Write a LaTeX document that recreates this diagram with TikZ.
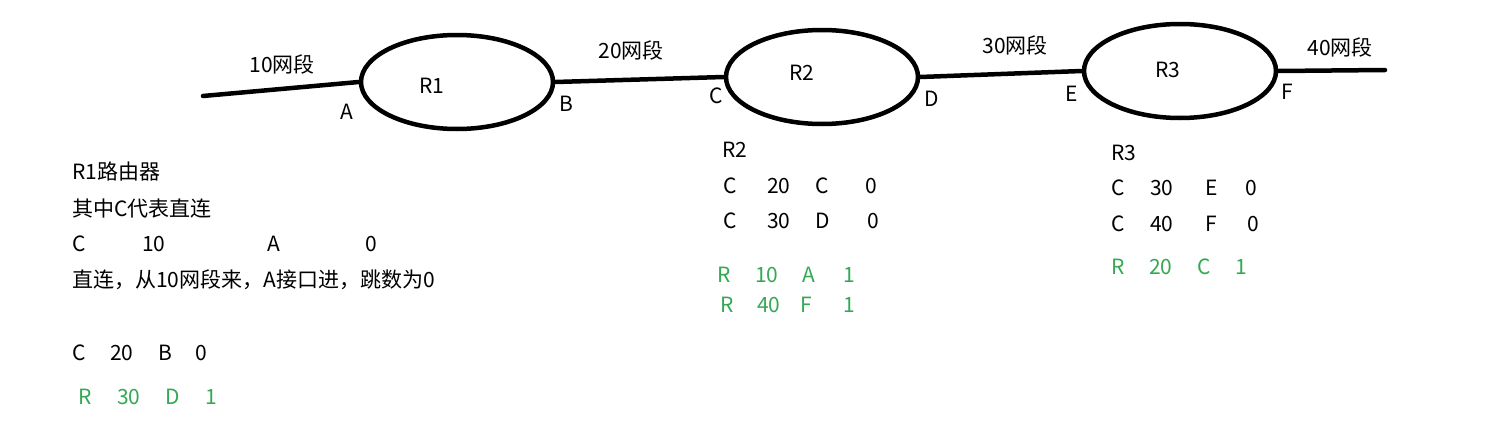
\documentclass[tikz,border=0pt]{standalone}
\usepackage{fontspec}
\setmainfont{Noto Sans CJK SC}
\usetikzlibrary{shapes.geometric}
\definecolor{routegreen}{RGB}{52,168,83}
\tikzset{
  router/.style={draw,ellipse,line width=4.5pt,minimum width=192pt,minimum height=94pt,inner sep=0pt},
  link/.style={line width=4.5pt,line cap=round},
  lbl/.style={inner sep=0pt,font=\fontsize{21}{24}\selectfont},
  cell/.style={lbl,anchor=west},
  learned/.style={cell,text=routegreen}
}
\begin{document}
\begin{tikzpicture}[x=1pt,y=-1pt]
	\useasboundingbox (0,0) rectangle (1489,439);
	% routers
	\node[router] (r1) at (457,82) {};
	\node[router] (r2) at (822,77) {};
	\node[router] (r3) at (1180,71) {};
	\node[lbl] (r1name) at (432,86) {R1};
	\node[lbl] (r2name) at (802,73) {R2};
	\node[lbl] (r3name) at (1168,70) {R3};
	% segments
	\coordinate (seg10end) at (203,96);
	\coordinate (seg40end) at (1385,70);
	\draw[link] (seg10end) -- (r1.west);
	\draw[link] (r1.east) -- (r2.west);
	\draw[link] (r2.east) -- (r3.west);
	\draw[link] (r3.east) -- (seg40end);
	\node[lbl] (seg10) at (282,64) {10网段};
	\node[lbl] (seg20) at (631,50) {20网段};
	\node[lbl] (seg30) at (1015,45) {30网段};
	\node[lbl] (seg40) at (1340,47) {40网段};
	% interfaces
	\node[lbl] (ifA) at (347,112) {A};
	\node[lbl] (ifB) at (566,104) {B};
	\node[lbl] (ifC) at (716,96) {C};
	\node[lbl] (ifD) at (932,99) {D};
	\node[lbl] (ifE) at (1072,94) {E};
	\node[lbl] (ifF) at (1287,92) {F};
	% R1 table
	\node[cell] (t1title) at (72,172) {R1路由器};
	\node[cell] (t1note) at (72,209) {其中C代表直连};
	\node[cell] (t1a) at (72,244) {C};
	\node[cell] (t1b) at (142,244) {10};
	\node[cell] (t1c) at (267,244) {A};
	\node[cell] (t1d) at (365,244) {0};
	\node[cell] (t1text) at (72,280) {直连，从10网段来，A接口进，跳数为0};
	\node[cell] (t1e) at (72,353) {C};
	\node[cell] (t1f) at (110,353) {20};
	\node[cell] (t1g) at (158,353) {B};
	\node[cell] (t1h) at (195,353) {0};
	\node[learned] (t1i) at (78,397) {R};
	\node[learned] (t1j) at (117,397) {30};
	\node[learned] (t1k) at (165,397) {D};
	\node[learned] (t1l) at (205,397) {1};
	% R2 table
	\node[cell] (t2title) at (722,150) {R2};
	\node[cell] (t2a) at (723,186) {C};
	\node[cell] (t2b) at (767,186) {20};
	\node[cell] (t2c) at (815,186) {C};
	\node[cell] (t2d) at (865,186) {0};
	\node[cell] (t2e) at (723,221) {C};
	\node[cell] (t2f) at (767,221) {30};
	\node[cell] (t2g) at (815,221) {D};
	\node[cell] (t2h) at (867,221) {0};
	\node[learned] (t2i) at (717,275) {R};
	\node[learned] (t2j) at (755,275) {10};
	\node[learned] (t2k) at (802,275) {A};
	\node[learned] (t2l) at (843,275) {1};
	\node[learned] (t2m) at (720,305) {R};
	\node[learned] (t2n) at (757,305) {40};
	\node[learned] (t2o) at (800,305) {F};
	\node[learned] (t2p) at (843,305) {1};
	% R3 table
	\node[cell] (t3title) at (1111,153) {R3};
	\node[cell] (t3a) at (1111,188) {C};
	\node[cell] (t3b) at (1150,188) {30};
	\node[cell] (t3c) at (1205,188) {E};
	\node[cell] (t3d) at (1245,188) {0};
	\node[cell] (t3e) at (1111,224) {C};
	\node[cell] (t3f) at (1150,224) {40};
	\node[cell] (t3g) at (1205,224) {F};
	\node[cell] (t3h) at (1247,224) {0};
	\node[learned] (t3i) at (1111,267) {R};
	\node[learned] (t3j) at (1149,267) {20};
	\node[learned] (t3k) at (1197,267) {C};
	\node[learned] (t3l) at (1235,267) {1};
\end{tikzpicture}
\end{document}
